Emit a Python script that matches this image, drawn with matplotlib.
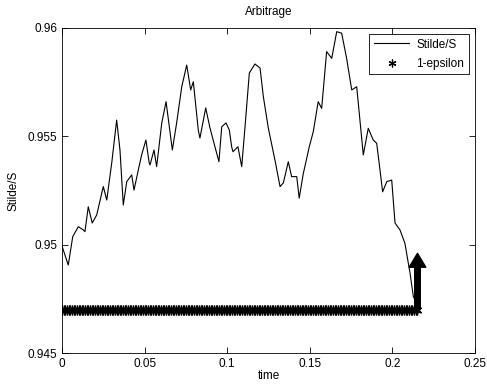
import numpy as np
import matplotlib
matplotlib.use("Agg")
import matplotlib.pyplot as plt
from matplotlib.ticker import FormatStrFormatter

plt.rcParams['font.family'] = ['Liberation Sans', 'DejaVu Sans']
plt.rcParams['font.size'] = 8.5

# Stilde/S path
t = [0, 0.0038, 0.0065, 0.0099, 0.0129, 0.0139, 0.0159, 0.0183, 0.0210, 0.0250,
     0.0271, 0.0301, 0.0331, 0.0351, 0.0371, 0.0392, 0.0422, 0.0436, 0.0462, 0.0482,
     0.0508, 0.0528, 0.0533, 0.0557, 0.0573, 0.0604, 0.0630, 0.0668, 0.0694, 0.0725,
     0.0755, 0.0779, 0.0795, 0.0825, 0.0835, 0.0870, 0.0896, 0.0950, 0.0967, 0.0993,
     0.1013, 0.1027, 0.1035, 0.1065, 0.1088, 0.1108, 0.1134, 0.1168, 0.1199, 0.1219,
     0.1249, 0.1289, 0.1320, 0.1340, 0.1370, 0.1390, 0.1421, 0.1436, 0.1461, 0.1497,
     0.1521, 0.1551, 0.1572, 0.1602, 0.1633, 0.1663, 0.1693, 0.1723, 0.1754, 0.1784,
     0.1824, 0.1854, 0.1884, 0.1905, 0.1925, 0.1941, 0.1966, 0.1996, 0.2016, 0.2046,
     0.2076, 0.2107, 0.2127, 0.2147, 0.2167]
ratio = [0.94994, 0.94906, 0.95037, 0.95083, 0.95068, 0.95060, 0.95175, 0.95100, 0.95137, 0.95268,
         0.95206, 0.95377, 0.95575, 0.95437, 0.95183, 0.95291, 0.95322, 0.95252, 0.95345, 0.95414,
         0.95483, 0.95377, 0.95368, 0.95437, 0.95360, 0.95562, 0.95660, 0.95437, 0.95562, 0.95729,
         0.95829, 0.95714, 0.95752, 0.95529, 0.95492, 0.95631, 0.95538, 0.95383, 0.95544, 0.95562,
         0.95529, 0.95452, 0.95429, 0.95452, 0.95360, 0.95544, 0.95792, 0.95834, 0.95815, 0.95683,
         0.95538, 0.95391, 0.95268, 0.95285, 0.95383, 0.95314, 0.95314, 0.95215, 0.95329, 0.95452,
         0.95521, 0.95660, 0.95629, 0.95891, 0.95860, 0.95983, 0.95976, 0.95860, 0.95714, 0.95729,
         0.95414, 0.95537, 0.95483, 0.95468, 0.95345, 0.95244, 0.95291, 0.95298, 0.95100, 0.95068,
         0.95006, 0.94868, 0.94760, 0.94731, 0.94689]

eps_level = 0.947
t_stop = 0.2152
arrow_top = 0.9496

fig = plt.figure(figsize=(4.87, 3.84), dpi=100)
ax = fig.add_axes([0.1273, 0.0807, 0.848, 0.8464])

ax.plot(t, ratio, color='black', lw=0.8, label='Stilde/S')
t_eps = np.arange(0, t_stop + 1e-9, 0.001)
ax.plot(t_eps, np.full_like(t_eps, eps_level), ls='none', marker=(6, 2, 0),
        ms=7, mew=0.9, color='black', label='1-epsilon')
ax.annotate('', xy=(t_stop, arrow_top), xytext=(t_stop, eps_level),
            arrowprops=dict(facecolor='black', edgecolor='black', width=4,
                            headwidth=12, headlength=10, shrink=0))

ax.set_xlim(0, 0.25)
ax.set_ylim(0.945, 0.96)
ax.set_xticks([0, 0.05, 0.1, 0.15, 0.2, 0.25])
ax.set_yticks([0.945, 0.95, 0.955, 0.96])
ax.xaxis.set_major_formatter(FormatStrFormatter('%g'))
ax.yaxis.set_major_formatter(FormatStrFormatter('%g'))
ax.tick_params(direction='in', top=True, right=True, length=4, width=0.6)
for s in ax.spines.values():
    s.set_linewidth(0.6)

ax.set_title('Arbitrage', fontsize=8.5, pad=9)
ax.set_xlabel('time', labelpad=0)
ax.set_ylabel('Stilde/S', labelpad=6)

leg = ax.legend(loc='upper right', fancybox=False, framealpha=1, edgecolor='black',
                borderaxespad=0.5, handlelength=3.0, labelspacing=0.6,
                borderpad=0.4, handletextpad=0.6, markerscale=0.8)
leg.get_frame().set_linewidth(0.6)

fig.savefig('out.png', dpi=100)
